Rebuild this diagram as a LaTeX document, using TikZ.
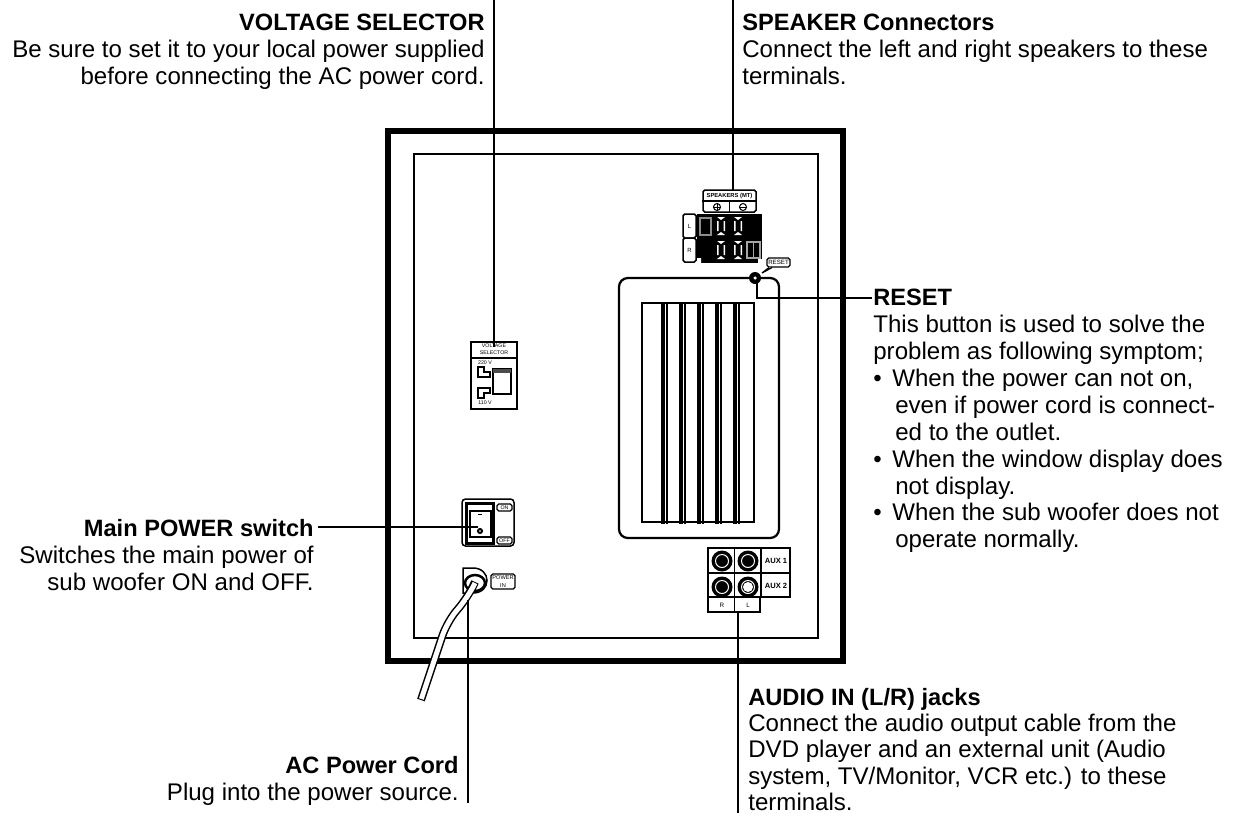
\documentclass[tikz,border=0pt]{standalone}
\usepackage{fontspec}
\setmainfont{Liberation Sans}
\usepackage{tikz}
\usetikzlibrary{positioning, arrows.meta, shapes.geometric}

\newcommand{\hd}[1]{{\fontsize{13.45}{15.3}\selectfont\bfseries #1}}
\newcommand{\itm}{\makebox[10.8pt][l]{•}}
\newcommand{\ind}{\hspace*{12.5pt}}

\begin{document}
\begin{tikzpicture}[
    x=0.02cm, y=-0.02cm,
    font=\fontsize{13.7}{15.3}\selectfont,
    note/.style={inner sep=0pt, align=left, anchor=north west},
    noter/.style={inner sep=0pt, align=right, anchor=north east},
    tiny/.style={inner sep=0pt, align=center, font=\fontsize{3}{4}\selectfont},
    lead/.style={draw=black, line width=0.4mm},
    part/.style={draw=black, line width=0.3mm, fill=white, inner sep=0pt},
    tag/.style={part, rounded corners=1pt, line width=0.25mm, font=\fontsize{3}{3.6}\selectfont, align=center},
    jack/.style={circle, fill=black, minimum size=0.42cm, inner sep=0pt},
    jackin/.style={circle, draw=white, line width=0.2mm, fill=black, minimum size=0.26cm, inner sep=0pt},
]
\useasboundingbox (0,0) rectangle (1233,815);

% ── Cabinet ─────────────────────────────────
\node[draw=black, line width=1.1mm, minimum width=9.1cm, minimum height=10.6cm, inner sep=0pt] (cab) at (615.5,396) {};
\node[draw=black, line width=0.5mm, minimum width=8.08cm, minimum height=9.68cm, inner sep=0pt] (panel) at (616,396) {};

% ── Grille ──────────────────────────────────
\node[draw=black, line width=0.45mm, rounded corners=5pt, minimum width=3.2cm, minimum height=5.2cm, inner sep=0pt] (grille) at (699,408) {};
\node[draw=black, line width=0.4mm, minimum width=2.24cm, minimum height=4.38cm, inner sep=0pt] (slots) at (698,412.5) {};
\foreach \x in {664,682,700,718,736} {
    \fill (\x-3,302) rectangle (\x+0.5,523.5);
    \fill (\x+2,302) rectangle (\x+3.5,523.5);
}

% ── Speaker terminals ───────────────────────
\node[part, rounded corners=1pt, minimum width=1.06cm, minimum height=0.44cm] (spk) at (729.5,201) {};
\draw[line width=0.3mm] (spk.west) -- (spk.east) (spk.north) ++(0,11) -- (spk.south);
\node[tiny, font=\fontsize{3.3}{4}\selectfont\bfseries] (spklab) at (729.5,196) {SPEAKERS (MT)};
\node[circle, draw=black, line width=0.2mm, minimum size=0.14cm, inner sep=0pt] (spkp) at (717,207) {};
\draw[line width=0.2mm] (713,207) -- (721,207) (717,203) -- (717,211);
\node[circle, draw=black, line width=0.2mm, minimum size=0.14cm, inner sep=0pt] (spkm) at (743,207) {};
\draw[line width=0.2mm] (739,207) -- (747,207);
\node[fill=black, minimum width=1.3cm, minimum height=0.98cm, inner sep=0pt] (blk) at (729.5,238.5) {};
\fill[white] (696,258) rectangle (701,264) (758,259) rectangle (763,264);
\node[part, rounded corners=1pt, minimum width=0.26cm, minimum height=0.48cm, font=\fontsize{3.4}{4}\selectfont] (chl) at (689.5,226) {L};
\node[part, rounded corners=1pt, minimum width=0.26cm, minimum height=0.48cm, font=\fontsize{3.4}{4}\selectfont] (chr) at (689.5,250) {R};
\draw[draw=black!45, line width=0.3mm] (700,218) rectangle (711,235);
\draw[draw=black!35, line width=0.3mm] (747,242) rectangle (760,258) (753.5,242) -- (753.5,258);
\foreach \x/\y in {721/226,738/226,721/250,738/250} {
    \fill[white] (\x-4,\y-9) -- (\x+4,\y-9) -- (\x,\y-6) -- cycle;
    \fill[white] (\x-4,\y+9) -- (\x+4,\y+9) -- (\x,\y+6) -- cycle;
    \fill[white] (\x-4,\y-5) rectangle (\x-2.5,\y+5) (\x+2.5,\y-5) rectangle (\x+4,\y+5);
}

% ── Voltage selector ────────────────────────
\node[part, minimum width=0.92cm, minimum height=1.34cm] (volt) at (494,375.5) {};
\draw[line width=0.25mm] (471,358) -- (517,358);
\node[tiny] (voltlab) at (494,349.5) {VOLTAGE\\SELECTOR};
\node[part, line width=0.35mm, minimum width=0.36cm, minimum height=0.5cm] (sw) at (502,381.5) {};
\fill[black!70] (493,369) rectangle (511,373);
\node[tiny] (v220) at (485,362.5) {220 V};
\node[tiny] (v110) at (485,402.5) {110 V};
\draw[line width=0.25mm] (478,367) -- (484,367) -- (484,372) -- (490,372) -- (490,377) -- (478,377) -- cycle;
\draw[line width=0.25mm] (478,388) -- (490,388) -- (490,393) -- (484,393) -- (484,398) -- (478,398) -- cycle;

% ── Power switch ────────────────────────────
\node[part, rounded corners=2pt, minimum width=1.04cm, minimum height=0.94cm] (pwr) at (488,522.5) {};
\node[draw=black, line width=0.6mm, minimum width=0.54cm, minimum height=0.8cm, inner sep=0pt] (rock) at (479.5,523) {};
\node[draw=black, line width=0.25mm, minimum width=0.42cm, minimum height=0.52cm, inner sep=0pt] (rockin) at (480.5,524) {};
\draw[line width=0.3mm] (478,514.5) -- (482,514.5);
\node[circle, draw=black, line width=0.4mm, minimum size=0.08cm, inner sep=0pt] (pdot) at (480,531) {};
\node[tag, minimum width=0.3cm, minimum height=0.14cm] (on) at (504.5,507.5) {ON};
\node[tag, minimum width=0.3cm, minimum height=0.14cm] (off) at (504.5,540.5) {OFF};

% ── Power inlet + cord ──────────────────────
\draw[line width=0.3mm, fill=white] (463,568) -- (473,568) .. controls (482,568) and (487,574) .. (487,580.5) .. controls (487,587) and (482,593) .. (473,593) -- (463,593) -- cycle;
\node[ellipse, draw=black, line width=0.5mm, fill=white, minimum width=0.4cm, minimum height=0.32cm, inner sep=0pt] (grom) at (475,583) {};
\node[tag, minimum width=0.48cm, minimum height=0.3cm, font=\fontsize{3.2}{4.4}\selectfont] (pin) at (503,581.5) {POWER\\IN};
\draw[line width=1.6mm, rounded corners=8pt] (475,582) -- (468,597) -- (447,622) -- (421,700);
\draw[white, line width=1.0mm, rounded corners=8pt] (475,583) -- (468,597) -- (447,622) -- (421.3,699);

% ── Audio jacks ─────────────────────────────
\node[part, minimum width=1.64cm, minimum height=0.98cm] (aux) at (749,572.5) {};
\node[part, minimum width=1.04cm, minimum height=0.3cm, font=\fontsize{3.6}{4}\selectfont] (rl) at (734,604.5) {};
\draw[line width=0.3mm] (708,573) -- (790,573) (734.5,548) -- (734.5,612) (761,548) -- (761,597);
\node[tiny, font=\fontsize{3.6}{4}\selectfont] (rr) at (722,605) {R};
\node[tiny, font=\fontsize{3.6}{4}\selectfont] (ll) at (748,605) {L};
\foreach \x/\y/\n in {722/561/a,748/561/b,722/587/c,748/587/d} {
    \node[jack] (j\n) at (\x,\y) {};
    \node[jackin] (i\n) at (\x,\y) {};
}
\node[circle, fill=white, minimum size=0.2cm, inner sep=0pt] (dhole) at (748,587) {};
\node[tiny, font=\fontsize{4.3}{5}\selectfont\bfseries] (aux1) at (776,561) {AUX 1};
\node[tiny, font=\fontsize{4.3}{5}\selectfont\bfseries] (aux2) at (776,586) {AUX 2};

% ── Labels ──────────────────────────────────
\node[noter] (vlab) at (485,14) {\hd{VOLTAGE SELECTOR}\\Be sure to set it to your local power supplied\\before connecting the AC power cord.};
\node[note] (slab) at (742,14) {\hd{SPEAKER Connectors}\\Connect the left and right speakers to these\\terminals.};
\node[note] (rlab) at (873,289) {\hd{RESET}\\This button is used to solve the\\problem as following symptom;\\\itm When the power can not on,\\\ind even if power cord is connect-\\\ind ed to the outlet.\\\itm When the window display does\\\ind not display.\\\itm When the sub woofer does not\\\ind operate normally.};
\node[noter] (mlab) at (314,519) {\hd{Main POWER switch}\\Switches the main power of\\sub woofer ON and OFF.};
\node[noter] (alab) at (459,756) {\hd{AC Power Cord}\\Plug into the power source.};
\node[note, font=\fontsize{13.7}{14.9}\selectfont] (aulab) at (748,688) {\hd{AUDIO IN (L/R) jacks}\\Connect the audio output cable from the\\DVD player and an external unit (Audio\\system, TV/Monitor, VCR etc.) to these\\terminals.};

% ── Leaders ─────────────────────────────────
\coordinate (vtop) at (493.5,0);
\coordinate (vend) at (493.5,347);
\coordinate (stop) at (733,0);
\coordinate (send) at (733,190);
\coordinate (rbend) at (757,298);
\coordinate (rend) at (872,298);
\coordinate (mstart) at (318,526.5);
\coordinate (mend) at (478,526.5);
\coordinate (atop) at (468,600);
\coordinate (aend) at (468,803);
\coordinate (autop) at (737.5,612);
\coordinate (auend) at (737.5,813);
\draw[lead] (vtop) -- (vend);
\draw[lead] (stop) -- (send);
\draw[lead] (rbend |- 0,279) -- (rbend) -- (rend);
\draw[lead] (mstart) -- (mend);
\draw[lead] (atop) -- (aend);
\draw[lead] (autop) -- (auend);

% ── Reset ───────────────────────────────────
\node[circle, fill=black, minimum size=0.24cm, inner sep=0pt] (rst) at (755,278) {};
\node[circle, fill=white, minimum size=0.07cm, inner sep=0pt] (rsthole) at (755,278) {};
\node[tag, minimum width=0.46cm, minimum height=0.18cm, font=\fontsize{3.5}{4}\selectfont] (rstlab) at (778.5,262.5) {RESET};
\draw[line width=0.25mm, fill=white] (769,267.5) -- (762,273) -- (772,267.5);
\end{tikzpicture}
\end{document}
